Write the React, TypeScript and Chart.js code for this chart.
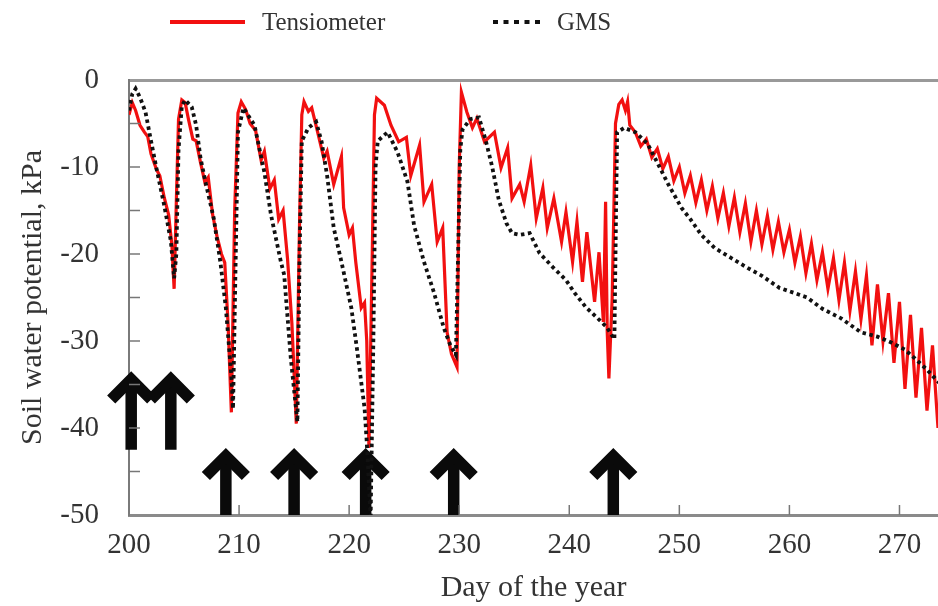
import React, { useEffect, useRef } from 'react';
import { Chart, registerables } from 'chart.js';

Chart.register(...registerables);

// ---- Data ----
const tensDays = [
  200.0, 200.3, 200.6, 201.0, 201.4, 201.7, 202.0, 202.5, 202.8, 203.2, 203.6, 203.9, 204.1,
  204.3, 204.5, 204.8, 205.1, 205.4, 205.8, 206.1, 206.5, 206.9, 207.2, 207.6, 208.0, 208.4, 208.7, 209.0, 209.3,
  209.6, 209.9, 210.2, 210.6, 211.0, 211.5, 212.0, 212.3, 212.8, 213.2, 213.6, 214.0, 214.4, 214.8, 215.2,
  215.5, 215.7, 215.9, 216.3, 216.6, 217.1, 217.7, 218.0, 218.6, 219.3, 219.5, 220.0, 220.3, 220.6, 221.1, 221.4, 221.6, 221.8,
  222.1, 222.3, 222.5, 223.2, 223.8, 224.5, 225.2, 225.6, 226.4, 226.8, 227.5, 228.0, 228.5, 228.9, 229.3, 229.8,
  230.0, 230.2, 230.7, 231.2, 231.6, 232.3, 233.2, 233.8, 234.4, 234.8, 235.5, 235.9, 236.5, 237.0, 237.6, 238.0, 238.6,
  239.3, 239.7, 240.3, 240.7, 241.2, 241.6, 242.3, 242.7, 243.1, 243.3, 243.45, 243.6, 243.9,
  244.2, 244.5, 244.8, 245.1, 245.3, 245.5,
  246.0, 246.5, 247.0, 247.5, 248.0, 248.5, 249.0, 249.5, 250.0, 250.5, 251.0, 251.5, 252.0, 252.5, 253.0, 253.5,
  254.0, 254.5, 255.0, 255.5, 256.0, 256.5, 257.0, 257.5, 258.0, 258.5, 259.0, 259.5, 260.0, 260.5, 261.0, 261.5,
  262.0, 262.5, 263.0, 263.5, 264.0, 264.5, 265.0, 265.5, 266.0, 266.5, 267.0, 267.5, 268.0, 268.5, 269.0, 269.5,
  270.0, 270.5, 271.0, 271.5, 272.0, 272.5, 273.0, 273.5,
];
const tensValues = [
  -4.0, -2.6, -3.5, -5.2, -6.0, -6.5, -8.5, -10.3, -11.0, -13.5, -15.5, -19.0, -24.0,
  -14.0, -4.5, -2.3, -2.6, -4.5, -6.8, -7.0, -9.5, -11.8, -11.2, -15.5, -18.0, -20.0, -21.0, -28.0, -38.2,
  -15.0, -3.8, -2.5, -3.4, -5.0, -5.8, -9.2, -8.2, -12.5, -11.5, -16.0, -15.0, -20.5, -28.0, -39.5,
  -16.0, -4.0, -2.5, -3.6, -3.2, -5.8, -9.0, -8.2, -12.0, -8.8, -14.7, -17.8, -17.0, -20.9, -26.2, -25.6, -30.0, -42.3,
  -20.0, -4.0, -2.1, -2.9, -5.2, -7.1, -6.6, -11.0, -7.5, -14.0, -12.0, -18.6, -17.0, -29.0, -31.5, -33.0,
  -10.0, -1.4, -3.7, -5.5, -4.4, -7.1, -6.0, -10.1, -7.8, -13.6, -12.0, -14.0, -9.8, -15.9, -12.4, -17.0, -13.6,
  -18.6, -15.2, -20.9, -16.3, -23.2, -17.5, -25.5, -19.8, -27.8, -14.0, -29.0, -34.3, -25.0,
  -5.0, -2.8, -2.3, -3.5, -2.5, -5.2,
  -6.0, -7.6, -6.8, -8.9, -7.9, -10.2, -8.8, -11.6, -10.0, -13.0, -11.0, -14.1, -11.5, -15.0, -12.2, -15.9,
  -13.0, -16.8, -13.5, -17.5, -14.2, -18.6, -15.0, -18.9, -15.6, -19.5, -16.3, -19.8, -17.2, -21.0, -18.0, -22.2,
  -18.8, -23.0, -19.8, -24.0, -20.5, -25.3, -21.0, -26.5, -22.0, -27.5, -22.5, -30.5, -23.5, -30.0, -24.5, -32.5,
  -25.5, -35.5, -27.0, -36.5, -28.5, -38.0, -30.5, -40.0,
];

const gmsDays = [
  200.0, 200.3, 200.6, 201.0, 201.5, 202.0, 202.5, 203.2, 203.8, 204.1,
  204.3, 204.5, 204.8, 205.1, 205.7, 206.1, 206.5, 207.0, 207.7, 208.3, 208.8, 209.3, 209.45,
  209.7, 209.9, 210.4, 211.4, 212.3, 212.9, 213.8, 214.1, 214.7, 215.3,
  215.5, 215.7, 216.3, 217.0, 217.5, 218.0, 218.6, 219.3, 220.2, 220.7, 221.4, 221.6, 221.95,
  222.2, 222.4, 222.6, 223.5, 224.4, 225.3, 225.9, 226.8, 227.7, 228.6, 229.2, 229.7,
  229.9, 230.1, 230.3, 231.0, 231.8, 232.4, 233.0, 233.6, 234.3, 234.8, 235.5, 236.4, 237.3, 238.5, 239.7,
  240.5, 241.5, 242.5, 243.4, 244.1,
  244.25, 244.35, 245.0, 246.0, 247.1, 248.0, 249.0, 250.2, 251.0, 252.0, 253.2, 254.5, 256.2, 257.5, 259.1,
  260.5, 261.6, 263.0, 264.7, 266.5, 268.0, 269.3, 270.5, 271.4, 272.5, 273.6,
];
const gmsValues = [
  -3.5, -1.6, -1.0, -2.0, -3.7, -7.0, -10.2, -14.4, -18.5, -22.8,
  -20.0, -8.0, -3.0, -2.3, -3.1, -5.2, -9.0, -12.0, -15.9, -20.9, -26.2, -34.0, -37.8,
  -20.0, -6.0, -3.2, -5.2, -10.6, -15.5, -20.9, -22.4, -32.0, -39.3,
  -20.0, -7.0, -5.5, -4.8, -7.1, -11.0, -17.0, -20.9, -26.2, -30.8, -37.7, -41.6, -50.5,
  -30.0, -10.0, -7.0, -6.0, -8.3, -11.7, -16.7, -20.9, -24.4, -28.5, -30.5, -31.6,
  -20.0, -8.0, -5.7, -4.5, -4.3, -6.9, -10.0, -13.8, -16.5, -17.6, -17.8, -17.6, -19.9, -21.5, -23.0,
  -24.5, -26.1, -27.3, -28.4, -29.8,
  -15.0, -6.0, -5.5, -6.0, -7.3, -9.5, -12.0, -14.7, -16.0, -17.8, -19.3, -20.3, -21.6, -22.5, -23.9,
  -24.5, -25.0, -26.3, -27.4, -29.0, -29.5, -30.2, -31.0, -32.0, -33.3, -34.8,
];

// Irrigation arrows
const arrowDays = [200.2, 203.8, 208.8, 215.0, 221.5, 229.5, 244.0];
const arrowTips = [-33.5, -33.5, -42.3, -42.3, -42.3, -42.3, -42.3];
const arrowTails = [-42.5, -42.5, -50, -50, -50, -50, -50];

// Axes
const xTickValues = [200, 210, 220, 230, 240, 250, 260, 270];
const yMajorTicks = [0, -10, -20, -30, -40, -50];
const yMinorTicks = [-5, -15, -25, -35, -45];
const xMin = 200;
const xMax = 273.5;
const yMin = -50;
const yMax = 0;

const seriesLabels = ['Tensiometer', 'GMS'];
const xTitle = 'Day of the year';
const yTitle = 'Soil water potential, kPa';

const FONT = '"Liberation Serif", "Times New Roman", serif';
const TEXT = '#333333';

const arrowsPlugin = {
  id: 'irrigationArrows',
  beforeDatasetsDraw(chart: any) {
    const { ctx } = chart;
    const xs = chart.scales.x;
    const ys = chart.scales.y;
    ctx.save();
    ctx.strokeStyle = '#0a0a0a';
    ctx.lineWidth = 11.5;
    ctx.lineJoin = 'miter';
    ctx.lineCap = 'butt';
    ctx.setLineDash([]);
    arrowDays.forEach((d, i) => {
      const px = xs.getPixelForValue(d);
      const tip = ys.getPixelForValue(arrowTips[i]);
      const tail = ys.getPixelForValue(arrowTails[i]);
      ctx.beginPath();
      ctx.moveTo(px, tip + 8);
      ctx.lineTo(px, tail);
      ctx.stroke();
      ctx.beginPath();
      ctx.moveTo(px - 20, tip + 28);
      ctx.lineTo(px, tip + 8);
      ctx.lineTo(px + 20, tip + 28);
      ctx.stroke();
    });
    ctx.restore();
  },
};

const innerTicksPlugin = {
  id: 'innerTicks',
  afterDraw(chart: any) {
    const { ctx, chartArea } = chart;
    const xs = chart.scales.x;
    const ys = chart.scales.y;
    ctx.save();
    ctx.strokeStyle = '#777777';
    ctx.lineWidth = 1.5;
    ctx.setLineDash([]);
    xTickValues.forEach((v) => {
      if (v === xMin) return;
      const px = xs.getPixelForValue(v);
      ctx.beginPath();
      ctx.moveTo(px, chartArea.bottom);
      ctx.lineTo(px, chartArea.bottom - 10);
      ctx.stroke();
    });
    [...yMajorTicks, ...yMinorTicks].forEach((v) => {
      if (v === yMin || v === yMax) return;
      const py = ys.getPixelForValue(v);
      ctx.beginPath();
      ctx.moveTo(chartArea.left, py);
      ctx.lineTo(chartArea.left + 11, py);
      ctx.stroke();
    });
    ctx.restore();
  },
};

const legendPlugin = {
  id: 'topLegend',
  afterDraw(chart: any) {
    const { ctx } = chart;
    const items = [
      { x0: 170, x1: 245, tx: 262, width: 4, dash: [] as number[] },
      { x0: 493, x1: 545, tx: 557, width: 4, dash: [5, 5.5] },
    ];
    const y = 22;
    ctx.save();
    ctx.font = `25px ${FONT}`;
    ctx.textBaseline = 'middle';
    ctx.textAlign = 'left';
    chart.data.datasets.forEach((ds: any, i: number) => {
      const it = items[i];
      ctx.strokeStyle = ds.borderColor;
      ctx.lineWidth = it.width;
      ctx.setLineDash(it.dash);
      ctx.beginPath();
      ctx.moveTo(it.x0, y);
      ctx.lineTo(it.x1, y);
      ctx.stroke();
      ctx.fillStyle = TEXT;
      ctx.fillText(ds.label, it.tx, y + 1);
    });
    ctx.restore();
  },
};

export default function App() {
  const canvasRef = useRef<HTMLCanvasElement | null>(null);

  useEffect(() => {
    document.body.style.margin = '0';
    const canvas = canvasRef.current;
    if (!canvas) return;
    const tensData = tensDays.map((d, i) => ({ x: d, y: tensValues[i] }));
    const gmsData = gmsDays.map((d, i) => ({ x: d, y: gmsValues[i] }));

    const chart = new Chart(canvas, {
      type: 'line',
      data: {
        datasets: [
          {
            label: seriesLabels[0],
            data: tensData,
            borderColor: '#f21010',
            borderWidth: 3.2,
            pointRadius: 0,
            tension: 0,
            order: 1,
          },
          {
            label: seriesLabels[1],
            data: gmsData,
            borderColor: '#111111',
            borderWidth: 3.8,
            borderDash: [3.5, 3.5],
            pointRadius: 0,
            tension: 0,
            order: 0,
          },
        ],
      },
      options: {
        responsive: false,
        animation: false,
        layout: { padding: { top: 80, left: 0, right: 0, bottom: 0 } },
        plugins: {
          legend: { display: false },
          tooltip: { enabled: false },
        },
        scales: {
          x: {
            type: 'linear',
            position: 'bottom',
            min: xMin,
            max: xMax,
            afterBuildTicks: (scale: any) => {
              scale.ticks = xTickValues.map((v) => ({ value: v }));
            },
            afterFit: (scale: any) => {
              scale.height = 91;
            },
            grid: { display: false, drawTicks: false },
            border: { display: true, color: '#8a8a8a', width: 3 },
            ticks: {
              color: TEXT,
              font: { family: FONT, size: 29 },
              padding: 13,
              maxRotation: 0,
              autoSkip: false,
              callback: (v: any) => String(v),
            },
            title: {
              display: true,
              text: xTitle,
              color: TEXT,
              font: { family: FONT, size: 30 },
              padding: { top: 0, bottom: 0 },
            },
          },
          x2: {
            type: 'linear',
            axis: 'x',
            position: 'top',
            min: xMin,
            max: xMax,
            afterFit: (scale: any) => {
              scale.height = 0;
            },
            grid: { display: false, drawTicks: false },
            border: { display: true, color: '#999999', width: 3 },
            ticks: { display: false },
          },
          y: {
            type: 'linear',
            min: yMin,
            max: yMax,
            afterBuildTicks: (scale: any) => {
              scale.ticks = [...yMajorTicks, ...yMinorTicks]
                .sort((a, b) => a - b)
                .map((v) => ({ value: v }));
            },
            afterFit: (scale: any) => {
              scale.width = 129;
            },
            grid: { display: false, drawTicks: false },
            border: { display: true, color: '#7a7a7a', width: 2 },
            ticks: {
              color: TEXT,
              font: { family: FONT, size: 29 },
              padding: 30,
              autoSkip: false,
              callback: (v: any) => (yMajorTicks.includes(Number(v)) ? String(v) : ''),
            },
            title: {
              display: true,
              text: yTitle,
              color: TEXT,
              font: { family: FONT, size: 30 },
              padding: { top: 15, bottom: 0 },
            },
          },
        },
      },
      plugins: [arrowsPlugin, innerTicksPlugin, legendPlugin],
    } as any);

    return () => {
      chart.destroy();
    };
  }, []);

  return (
    <div style={{ width: 938, height: 606 }}>
      <canvas ref={canvasRef} width={938} height={606} style={{ display: 'block' }} />
    </div>
  );
}
